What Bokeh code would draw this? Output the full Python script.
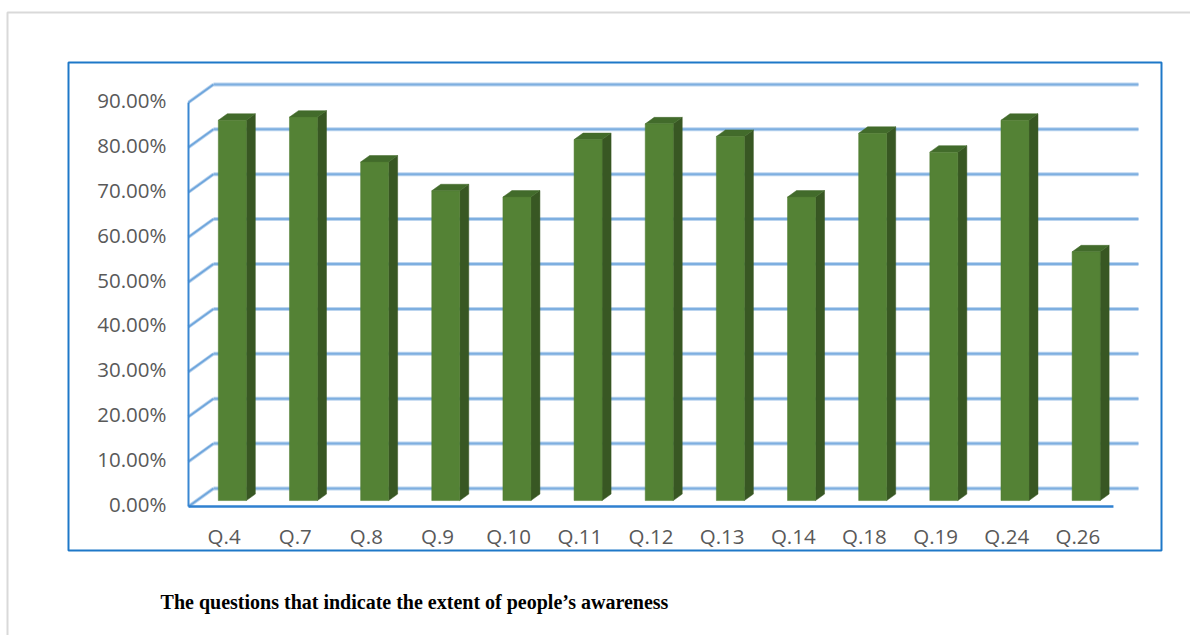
from bokeh.plotting import figure
from bokeh.embed import file_html
from bokeh.resources import INLINE
from bokeh.models import ColumnDataSource
from bokeh.core.properties import value

# ---------------- data ----------------
categories = ["Q.4", "Q.7", "Q.8", "Q.9", "Q.10", "Q.11", "Q.12",
              "Q.13", "Q.14", "Q.18", "Q.19", "Q.24", "Q.26"]
awareness = [84.7, 85.4, 75.4, 69.0, 67.6, 80.4, 83.9,
             81.1, 67.6, 81.8, 77.6, 84.7, 55.4]
y_ticks = [0, 10, 20, 30, 40, 50, 60, 70, 80, 90]
y_tick_labels = ["%.2f%%" % t for t in y_ticks]
title_text = "The questions that indicate the extent of people\u2019s awareness"

# ---------------- layout (pixels) ----------------
W, H = 1190, 635
X0_PX, CAT_PX = 188.0, 71.15      # front-plane left edge, px per category
Y0_PX, UNIT_PX = 506.0, 4.49      # front-plane 0 %, px per percent
DX = 25.0 / CAT_PX                # depth offset in x units
DY = 18.0 / UNIT_PX               # depth offset in y units
D0, D1 = 0.33, 0.69               # bar depth extent
HW = 14.0 / CAT_PX                # half bar width
LABEL_SHIFT = 2.5 / UNIT_PX       # Open Sans sits low on "middle"


def px_x(px):
    return (px - X0_PX) / CAT_PX


def px_y(py):
    return (Y0_PX - py) / UNIT_PX


p = figure(width=W, height=H,
           x_range=(px_x(0), px_x(W)), y_range=(px_y(H), px_y(0)),
           x_axis_type=None, y_axis_type=None,
           toolbar_location=None, output_backend="svg",
           min_border=0, outline_line_color=None,
           background_fill_color="white", border_fill_color="white")

# outer gray frame and blue chart-area box
p.quad(left=[px_x(7)], right=[px_x(1205)], top=[px_y(12)], bottom=[px_y(650)],
       fill_color=None, line_color="#d9d9d9", line_width=2)
p.quad(left=[px_x(68)], right=[px_x(1161)], top=[px_y(62)], bottom=[px_y(550)],
       fill_color=None, line_color="#1e78c8", line_width=2)

n = len(categories)

# back-wall gridlines (soft glow + core)
p.multi_line(xs=[[DX, n + DX] for t in y_ticks],
             ys=[[t + DY, t + DY] for t in y_ticks],
             line_color="#bcd5ef", line_width=4)
p.multi_line(xs=[[DX, n + DX] for t in y_ticks],
             ys=[[t + DY, t + DY] for t in y_ticks],
             line_color="#7eafe0", line_width=2)
# side-wall diagonals
p.multi_line(xs=[[0, DX] for t in y_ticks],
             ys=[[t, t + DY] for t in y_ticks],
             line_color="#bcd5ef", line_width=3.5)
p.multi_line(xs=[[0, DX] for t in y_ticks],
             ys=[[t, t + DY] for t in y_ticks],
             line_color="#6fa6dc", line_width=1.8)
# front vertical axis & floor front edge
p.line(x=[0, 0], y=[y_ticks[0], y_ticks[-1]], line_color="#3a87d2", line_width=2)
p.line(x=[0, n], y=[0, 0], line_color="#2f80d0", line_width=2.4)

# bars (3-D look)
centers = [i + 0.5 for i in range(n)]
front = ColumnDataSource(dict(
    left=[c - HW + D0 * DX for c in centers],
    right=[c + HW + D0 * DX for c in centers],
    bottom=[D0 * DY for c in centers],
    top=[v + D0 * DY for v in awareness],
))
side_xs, side_ys, top_xs, top_ys = [], [], [], []
for c, v in zip(centers, awareness):
    xr0, xr1 = c + HW + D0 * DX, c + HW + D1 * DX
    xl0, xl1 = c - HW + D0 * DX, c - HW + D1 * DX
    side_xs.append([xr0, xr1, xr1, xr0])
    side_ys.append([D0 * DY, D1 * DY, v + D1 * DY, v + D0 * DY])
    top_xs.append([xl0, xr0, xr1, xl1])
    top_ys.append([v + D0 * DY, v + D0 * DY, v + D1 * DY, v + D1 * DY])

p.patches(xs=side_xs, ys=side_ys, fill_color="#385723", line_color="#385723", line_width=0.5)
p.patches(xs=top_xs, ys=top_ys, fill_color="#426b2b", line_color="#426b2b", line_width=0.5)
p.quad(source=front, left="left", right="right", bottom="bottom", top="top",
       fill_color="#548235", line_color="#4f7a31", line_width=0.5)

# tick labels
p.text(x=[px_x(166)] * len(y_ticks), y=[t + LABEL_SHIFT for t in y_ticks], text=y_tick_labels,
       text_font=value("Open Sans"), text_font_size=value("20.5px"),
       text_color="#595959", text_align="right", text_baseline="middle")
p.text(x=centers, y=[px_y(535)] * n, text=categories,
       text_font=value("Open Sans"), text_font_size=value("20.5px"),
       text_color="#595959", text_align="center", text_baseline="middle")

# caption
p.text(x=[px_x(414)], y=[px_y(601)], text=[title_text],
       text_font=value("Liberation Serif"), text_font_style="bold",
       text_font_size=value("20px"), text_color="#000000",
       text_align="center", text_baseline="middle")

open("out.html", "w").write(file_html(p, INLINE))
